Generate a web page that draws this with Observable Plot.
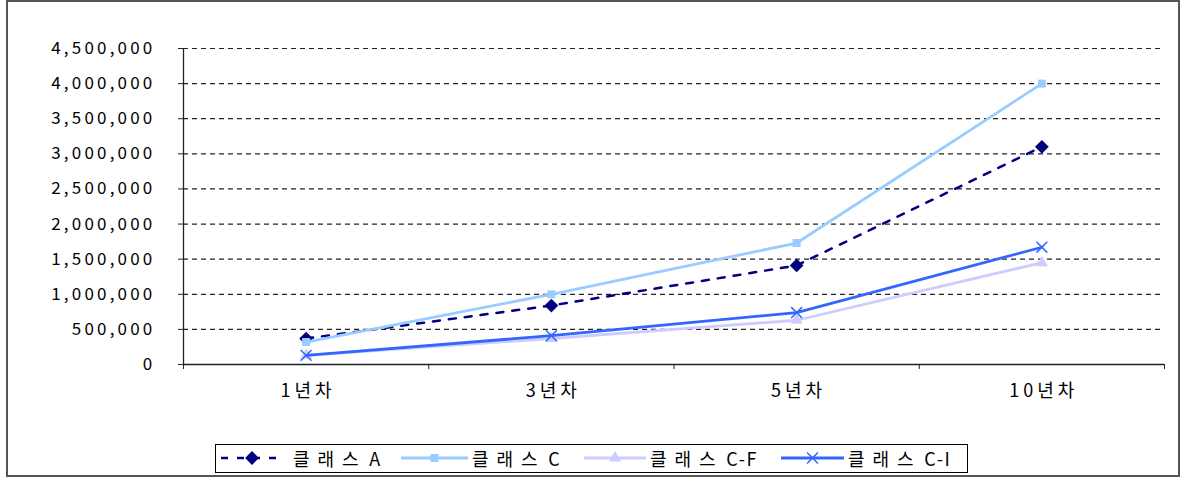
<!DOCTYPE html>
<html><head><meta charset="utf-8">
<script src="https://cdn.jsdelivr.net/npm/d3@7"></script>
<script src="https://cdn.jsdelivr.net/npm/@observablehq/plot@0.6"></script>
<style>
body{margin:0;background:#fff;}
#wrap{position:relative;width:1181px;height:477px;overflow:hidden;background:#fff;}
#frame{position:absolute;left:6px;top:0;width:1174px;height:477px;border:2px solid #555;box-sizing:border-box;pointer-events:none;}
#chart{position:absolute;left:0;top:0;}
#chart g[aria-label="y-axis tick label"]{letter-spacing:3.2px;font-size:17px;}
#chart g[aria-label="x-axis tick label"]{letter-spacing:4px;font-size:18px;}
#legend{position:absolute;left:215px;top:444px;width:753px;height:29px;border:1.5px solid #000;box-sizing:border-box;}
.item{position:absolute;top:0;height:26px;}
.lab{position:absolute;top:1px;font:18px "Noto Sans CJK KR",sans-serif;color:#000;white-space:nowrap;line-height:24px;}
.lab .k{letter-spacing:8px;}
.lab .l{letter-spacing:1.5px;word-spacing:-3px;}
</style>
</head><body>
<div id="wrap"><div id="chart"></div><div id="legend"></div><div id="frame"></div></div>
<script>
// ---- data ----
const categories = ["1년차", "3년차", "5년차", "10년차"];
const seriesNames = ["클래스 A", "클래스 C", "클래스 C-F", "클래스 C-I"];
const classA  = [370000, 840000, 1410000, 3100000];
const classC  = [320000, 1000000, 1730000, 4000000];
const classCF = [130000, 370000, 630000, 1450000];
const classCI = [130000, 410000, 740000, 1670000];
const yTicks = [0, 500000, 1000000, 1500000, 2000000, 2500000, 3000000, 3500000, 4000000, 4500000];

// ---- styles ----
const styles = [
  {color: "#000080", dash: "7,9", symbol: "diamond2", r: 6.2, width: 2.5},
  {color: "#99ccff", dash: null, symbol: "square", r: 4.5, width: 2.8},
  {color: "#ccccff", dash: null, symbol: "triangle", r: 4.5, width: 2.8},
  {color: "#3366ff", dash: null, symbol: "times", r: 5, width: 2.8}
];
const valuesList = [classA, classC, classCF, classCI];
const rows = seriesNames.map((name, s) => valuesList[s].map((v, i) => ({series: name, s, x: i + 0.5, y: v})));

const fmt = d3.format(",");
const marks = [
  Plot.ruleY(yTicks.slice(1), {stroke: "#222", strokeWidth: 1.2, strokeDasharray: "5,4"}),
  Plot.ruleX([0], {y1: 0, y2: yTicks[yTicks.length - 1], stroke: "#222", strokeWidth: 1.3}),
  Plot.ruleY([0], {stroke: "#222", strokeWidth: 1.3}),
  Plot.axisY({ticks: yTicks, tickSize: 5, tickPadding: 23, tickFormat: fmt, label: null, fill: "#000", stroke: "#222"}),
  Plot.axisX({ticks: [0, 1, 2, 3, 4], tickSize: 5, tickFormat: () => "", label: null, stroke: "#222"}),
  Plot.axisX({ticks: categories.map((c, i) => i + 0.5), tickSize: 0, tickPadding: 20, dx: 2,
    tickFormat: (d) => categories[Math.round(d - 0.5)], label: null, fill: "#000"})
];
rows.forEach((data, s) => {
  const st = styles[s];
  marks.push(Plot.line(data, {x: "x", y: "y", stroke: st.color, strokeWidth: st.width,
    strokeDasharray: st.dash, curve: "linear"}));
  if (st.symbol === "times") {
    marks.push(Plot.dot(data, {x: "x", y: "y", symbol: "times", r: st.r, stroke: st.color, strokeWidth: 1.5}));
  } else {
    marks.push(Plot.dot(data, {x: "x", y: "y", symbol: st.symbol, r: st.r, fill: st.color, stroke: "none"}));
  }
});

const chart = Plot.plot({
  width: 1181, height: 430,
  marginLeft: 183, marginRight: 17, marginTop: 48, marginBottom: 66,
  style: {fontFamily: "'Noto Sans CJK KR', sans-serif", background: "transparent", color: "#000"},
  x: {type: "linear", domain: [0, 4], axis: null},
  y: {domain: [0, 4500000], axis: null},
  marks
});
document.getElementById("chart").appendChild(chart);

// ---- legend (layout: sample start, sample end, label start) ----
const legendLayout = [[5, 67, 77], [185, 252, 256], [368, 430, 434], [565, 628, 632]];
const legend = d3.select("#legend");
seriesNames.forEach((name, s) => {
  const st = styles[s];
  const [a, b, t] = legendLayout[s];
  const w = b - a;
  const it = legend.append("div").attr("class", "item").style("left", a + "px");
  const svg = it.append("svg").attr("width", w).attr("height", 26).style("position", "absolute").style("left", "0").style("top", "0");
  svg.append("line").attr("x1", 0).attr("x2", w).attr("y1", 13).attr("y2", 13)
    .attr("stroke", st.color).attr("stroke-width", st.width).attr("stroke-dasharray", st.dash);
  const sym = {diamond2: d3.symbolDiamond2, square: d3.symbolSquare, triangle: d3.symbolTriangle, times: d3.symbolTimes}[st.symbol];
  const p = svg.append("path").attr("transform", `translate(${w / 2},13)`)
    .attr("d", d3.symbol(sym, Math.PI * st.r * st.r)());
  if (st.symbol === "times") p.attr("fill", "none").attr("stroke", st.color).attr("stroke-width", 1.5);
  else p.attr("fill", st.color);
  const sp = name.indexOf(" ");
  const lab = legend.append("div").attr("class", "lab").style("left", t + "px");
  lab.append("span").attr("class", "k").text(name.slice(0, sp));
  lab.append("span").attr("class", "l").text(name.slice(sp));
});
</script>
</body></html>
